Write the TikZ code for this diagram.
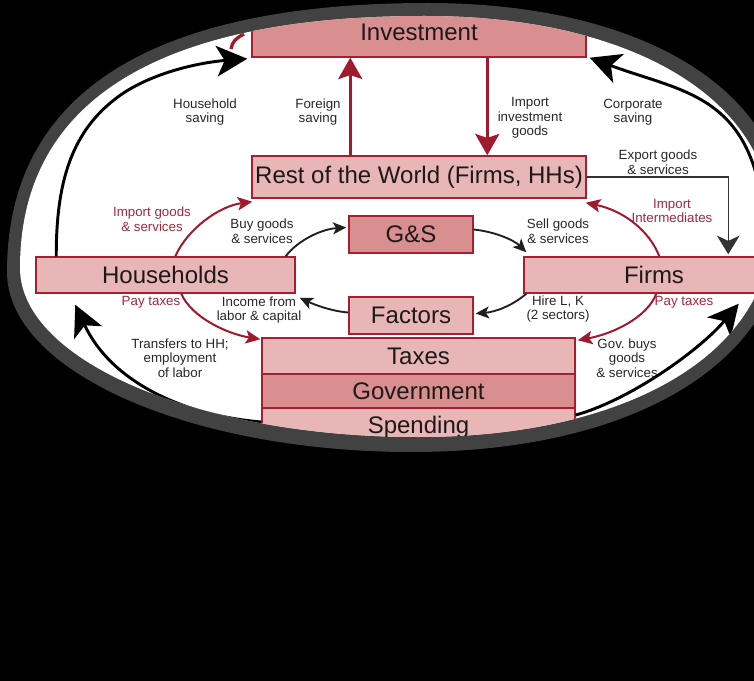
\documentclass[tikz,border=0pt]{standalone}
\usepackage{fontspec}
\setmainfont{Liberation Sans}
\frenchspacing
\usetikzlibrary{arrows.meta,calc}
\definecolor{boxlight}{RGB}{232,182,182}
\definecolor{boxdark}{RGB}{217,143,143}
\definecolor{boxred}{RGB}{165,30,50}
\definecolor{arrred}{RGB}{160,25,45}
\definecolor{lblred}{RGB}{165,40,60}
\definecolor{lblgray}{RGB}{40,40,40}
\definecolor{textdark}{RGB}{30,25,25}
\definecolor{rimgray}{RGB}{66,66,66}
\tikzset{
  boxl/.style={draw=boxred, fill=boxlight, line width=1.1pt, inner sep=0pt,
    font=\fontsize{18}{20}\selectfont, text=textdark},
  boxd/.style={boxl, fill=boxdark},
  lbl/.style={font=\fontsize{10}{10.9}\selectfont, align=center, text=lblgray, inner sep=0pt},
  rlbl/.style={lbl, text=lblred},
  bigarr/.style={draw=black, line width=2.2pt, -{Stealth[length=23pt,width=23pt,inset=6pt]}},
  redarr/.style={draw=arrred, line width=2pt, -{Stealth[length=16pt,width=18pt,inset=3pt]}},
  redcurve/.style={draw=arrred, line width=1.5pt, -{Stealth[length=11pt,width=10pt,inset=2.5pt]}},
  smallarr/.style={draw=black!88, line width=1.4pt, -{Stealth[length=10pt,width=9pt,inset=2.5pt]}},
  exparr/.style={draw=black!80, line width=0.9pt, -{Stealth[length=14pt,width=17pt,inset=4pt]}},
}
\begin{document}
\begin{tikzpicture}[x=0.75pt,y=-0.75pt]
\useasboundingbox (0,0) rectangle (754,681);
\fill[black] (0,0) rectangle (754,681);
% rim (outer shape)
\fill[rimgray] (7,272) .. controls (7,105) and (133,3) .. (428,3)
  .. controls (643,3) and (786,91) .. (786,222)
  .. controls (786,360) and (636,452) .. (412,452)
  .. controls (189,452) and (7,371) .. (7,272) -- cycle;
% white inner area
\fill[white] (20,268) .. controls (20,112) and (141,16) .. (425,16)
  .. controls (633,16) and (772,100) .. (772,225)
  .. controls (772,352) and (630,437) .. (418,437)
  .. controls (199,437) and (20,361) .. (20,268) -- cycle;
\begin{scope}
\clip (20,268) .. controls (20,112) and (141,16) .. (425,16)
  .. controls (633,16) and (772,100) .. (772,225)
  .. controls (772,352) and (630,437) .. (418,437)
  .. controls (199,437) and (20,361) .. (20,268) -- cycle;
% boxes
\node[boxd, minimum width=250.5pt, minimum height=37.5pt] (inv) at (419,32) {Investment};
\node[boxl, minimum width=250.5pt, minimum height=31.5pt] (row) at (419,177) {Rest of the World (Firms, HHs)};
\node[boxd, minimum width=93pt, minimum height=27.75pt] (gs) at (411,234.5) {G\&S};
\node[boxl, minimum width=93pt, minimum height=27.75pt] (fac) at (411,315.5) {Factors};
\node[boxl, minimum width=194.25pt, minimum height=27pt] (hh) at (165.5,275) {Households};
\node[boxl, minimum width=195pt, minimum height=27pt] (firms) at (654,275) {Firms};
\node[boxl, minimum width=234.75pt, minimum height=27pt] (tax) at (418.5,356) {Taxes};
\node[boxd, minimum width=234.75pt, minimum height=25.5pt] (gov) at (418.5,391) {Government};
\node[boxl, minimum width=234.75pt, minimum height=28.5pt] (spend) at (418.5,427) {Spending};
% labels
\node[lbl] (lhs) at (205,112) {Household\\saving};
\node[lbl] (lfs) at (318,112) {Foreign\\saving};
\node[lbl] (lii) at (530,118) {Import\\investment\\goods};
\node[lbl] (lcs) at (633,112) {Corporate\\saving};
\node[lbl] (lex) at (658,162) {Export goods\\\& services};
\node[rlbl] (lim) at (672,211) {Import\\Intermediates};
\node[rlbl] (lig) at (152,219) {Import goods\\\& services};
\node[lbl] (lbuy) at (262,231) {Buy goods\\\& services};
\node[lbl] (lsell) at (558,231) {Sell goods\\\& services};
\node[rlbl] (lpth) at (151,302) {Pay taxes};
\node[lbl] (linc) at (259,310) {Income from\\labor \& capital};
\node[lbl] (lhire) at (558,309) {Hire L, K\\(2 sectors)};
\node[rlbl] (lptf) at (684,302) {Pay taxes};
\node[lbl] (ltr) at (180,358) {Transfers to HH;\\employment\\of labor};
\node[lbl] (lgov) at (627,358) {Gov. buys\\goods\\\& services};
% outer black arrows
\draw[bigarr] ($(hh.north west)+(21,0)$) .. controls (56,175) and (75,125) .. (125,92)
  .. controls (160,70) and (205,62) .. ($(inv.south west)+(-4,1)$);
\draw[bigarr] ($(firms.north east)+(-19,0)$) .. controls (765,94) and (690,95) .. ($(inv.south east)+(3,0)$);
\draw[bigarr] ($(spend.west)+(0,-5)$) .. controls (180,415) and (110,380) .. ($(hh.south west)+(40,11)$);
\draw[bigarr] ($(spend.east)+(0,-12)$) .. controls (630,400) and (700,350) .. ($(firms.south east)+(-46,10)$);
% red arrows
\draw[redarr] ($(row.north west)+(99,0)$) -- ($(inv.south west)+(99,0)$);
\draw[redarr] ($(inv.south west)+(236,0)$) -- ($(row.north west)+(236,0)$);
\draw[redcurve] ($(hh.north west)+(140,0)$) .. controls (188,228) and (220,206) .. ($(row.south west)+(1,3)$);
\draw[redcurve] ($(firms.north west)+(136,0)$) .. controls (650,232) and (625,211) .. ($(row.south east)+(-1,4)$);
\draw[redcurve] ($(hh.south west)+(146,0)$) .. controls (192,318) and (228,334) .. ($(tax.north west)+(-1,2)$);
\draw[redcurve] ($(firms.south west)+(133,0)$) .. controls (647,318) and (612,334) .. ($(tax.north east)+(2,3)$);
% export
\draw[exparr] (row.east) -| ($(firms.north west)+(205,-2)$);
% inner circular flow
\draw[smallarr] ($(hh.north east)+(-10,0)$) .. controls (298,240) and (322,229) .. ($(gs.west)+(-2,-7)$);
\draw[smallarr] ($(gs.east)+(0,-5)$) .. controls (497,232) and (515,241) .. ($(firms.north west)+(3,-4)$);
\draw[smallarr] ($(firms.south west)+(3,0)$) .. controls (512,306) and (495,312) .. ($(fac.east)+(2,-2)$);
\draw[smallarr] ($(fac.west)+(0,-3)$) .. controls (330,311) and (313,304) .. ($(hh.south east)+(4,4)$);
% clipped fragments
\draw[arrred, line width=2.5pt] (231,49) .. controls (232,42) and (236,38) .. (244,34);
\draw[arrred, line width=0.8pt] (712,98) .. controls (730,112) and (745,128) .. (760,155);
\end{scope}
\end{tikzpicture}
\end{document}
